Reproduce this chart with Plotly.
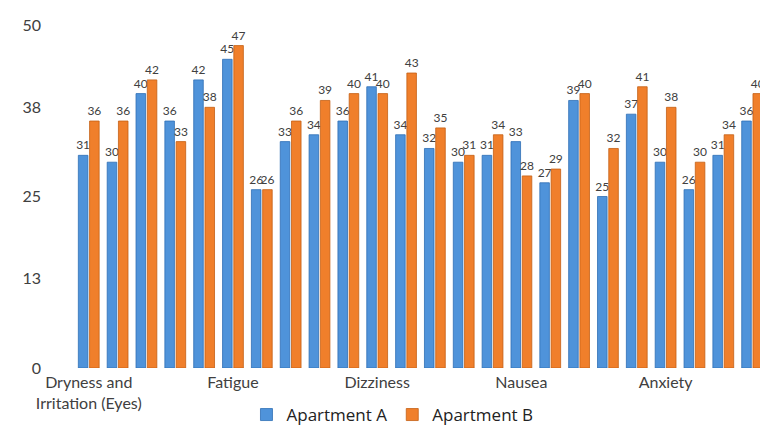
import plotly.graph_objects as go

positions = list(range(24))
tick_positions = [0, 5, 10, 15, 20]
tick_labels = ["Dryness and<br>Irritation (Eyes)", "Fatigue", "Dizziness", "Nausea", "Anxiety"]
apartment_a = [31, 30, 40, 36, 42, 45, 26, 33, 34, 36, 41, 34, 32, 30, 31, 33, 27, 39, 25, 37, 30, 26, 31, 36]
apartment_b = [36, 36, 42, 33, 38, 47, 26, 36, 39, 40, 40, 43, 35, 31, 34, 28, 29, 40, 32, 41, 38, 30, 34, 40]
y_ticks = [0, 13, 25, 38, 50]

font_main = "Lato, 'Open Sans', sans-serif"
grey = "#404040"

fig = go.Figure()
fig.add_trace(go.Bar(
    x=positions, y=apartment_a, name="Apartment A",
    marker=dict(color="#4F93DA", line=dict(color="#2F6FB5", width=0.8)),
    text=apartment_a, textposition="outside", textangle=0,
    textfont=dict(size=12, color=grey, family=font_main),
    cliponaxis=False,
))
fig.add_trace(go.Bar(
    x=positions, y=apartment_b, name="Apartment B",
    marker=dict(color="#F07F2B", line=dict(color="#C45F14", width=0.8)),
    text=apartment_b, textposition="outside", textangle=0,
    textfont=dict(size=12, color=grey, family=font_main),
    cliponaxis=True,
))

fig.update_layout(
    width=760, height=418,
    margin=dict(l=62, r=0, t=17, b=58, autoexpand=False),
    paper_bgcolor="white", plot_bgcolor="white",
    barmode="group", bargap=0.22, bargroupgap=0.15,
    font=dict(family=font_main, color=grey),
    showlegend=True,
    legend=dict(orientation="h", x=0.462, xanchor="center", y=-0.137, yanchor="middle",
                font=dict(family="'Open Sans', sans-serif", size=17, color="#222222"),
                itemwidth=30),
    uniformtext=dict(minsize=12, mode="show"),
    xaxis=dict(range=[-0.65, 23.55], tickmode="array", tickvals=tick_positions,
               ticktext=tick_labels, showgrid=False, zeroline=False, showline=False,
               ticks="", automargin=False, ticklabelstandoff=3,
               tickfont=dict(size=16, color=grey, family=font_main)),
    yaxis=dict(range=[0, 50], tickmode="array", tickvals=y_ticks,
               ticktext=[str(v) for v in y_ticks], showgrid=False, zeroline=False,
               showline=False, ticks="", ticklabelstandoff=28, automargin=False,
               tickfont=dict(size=16, color=grey, family=font_main)),
)

fig.write_html("out.html")
